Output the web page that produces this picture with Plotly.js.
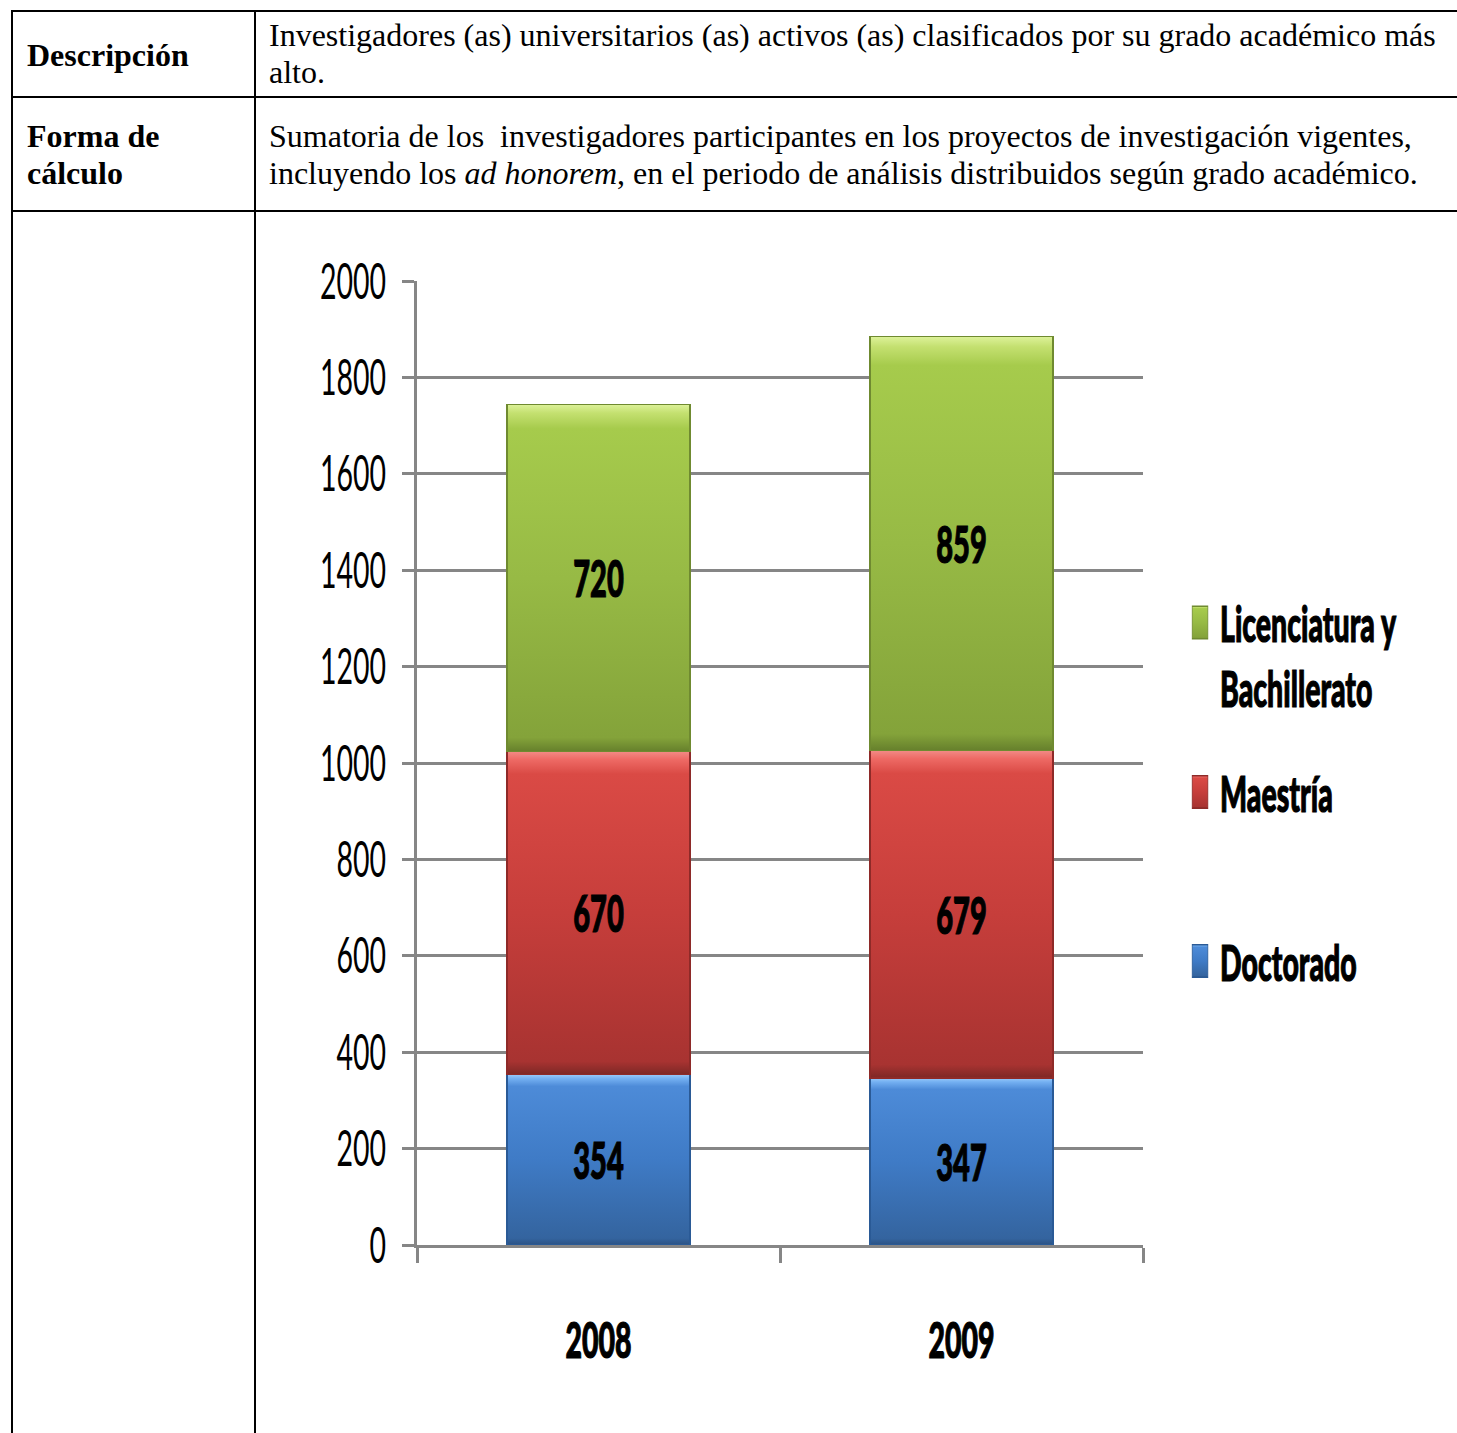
<!DOCTYPE html>
<html>
<head>
<meta charset="utf-8">
<script src="https://cdn.plot.ly/plotly-3.0.1.min.js"></script>
<style>
  html, body { margin: 0; padding: 0; background: #fff; }
  #page { position: relative; width: 1457px; height: 1433px; overflow: hidden; }
  .ln { position: absolute; background: #000; }
  .txt { position: absolute; font-family: "Liberation Serif", "Times New Roman", serif; font-size: 32px; line-height: 37px; color: #000; white-space: nowrap; }
  .b { font-weight: bold; }
  #chart { position: absolute; left: 0; top: 0; width: 1457px; height: 1433px; }
</style>
</head>
<body>
<div id="page">
  <div class="ln" style="left:11px; top:10px; width:1446px; height:2px;"></div>
  <div class="ln" style="left:11px; top:96px; width:1446px; height:2px;"></div>
  <div class="ln" style="left:11px; top:210px; width:1446px; height:2px;"></div>
  <div class="ln" style="left:11px; top:10px; width:2px; height:1423px;"></div>
  <div class="ln" style="left:254px; top:10px; width:2px; height:1423px;"></div>

  <div class="txt b" style="left:27px; top:37px;">Descripción</div>
  <div class="txt" style="left:269px; top:17px;">Investigadores (as) universitarios (as) activos (as) clasificados por su grado académico más<br>alto.</div>
  <div class="txt b" style="left:27px; top:118px;">Forma de<br>cálculo</div>
  <div class="txt" style="left:269px; top:118px;">Sumatoria de los&nbsp; investigadores participantes en los proyectos de investigación vigentes,<br>incluyendo los <i>ad honorem</i>, en el periodo de análisis distribuidos según grado académico.</div>

  <div id="chart"></div>
</div>
<script>
const years = ['2008', '2009'];
const doctorado = [354, 347];
const maestria = [670, 679];
const licenciatura = [720, 859];
const seriesNames = ['Doctorado', 'Maestría', 'Licenciatura y<br>Bachillerato'];
const yTicks = [0, 200, 400, 600, 800, 1000, 1200, 1400, 1600, 1800, 2000];

const fam = 'Lato, "Open Sans", sans-serif';
const grey = '#868686';
const SQUEEZE = 0.57;

const fills = ['#3D79C4', '#C43E3B', '#98BC45'];
const edges = ['#2A5A96', '#8E2A28', '#6F8A30'];
const grads = [
  [['0', '#9CCBFA'], ['0.025', '#74B0F2'], ['0.07', '#4D8BD8'], ['0.5', '#3F7BC6'], ['0.96', '#34649F'], ['1', '#2B5283']],
  [['0', '#F28B86'], ['0.025', '#EE6A65'], ['0.07', '#DA4A45'], ['0.5', '#C63E3B'], ['0.96', '#A83331'], ['1', '#7E2826']],
  [['0', '#DDF29A'], ['0.025', '#C4E070'], ['0.07', '#A6CB4C'], ['0.5', '#97BA45'], ['0.96', '#84A33A'], ['1', '#66802C']]
];

function bar(i, vals, legendId) {
  return {
    type: 'bar', name: seriesNames[i], x: years, y: vals,
    text: vals.map(String), textposition: 'inside', insidetextanchor: 'middle',
    textangle: 0, constraintext: 'none',
    textfont: { family: fam, size: 51, color: '#000', weight: 900 },
    marker: { color: fills[i], line: { color: edges[i], width: 1.5 } },
    legend: legendId, hoverinfo: 'skip'
  };
}

const data = [
  bar(0, doctorado, 'legend3'),
  bar(1, maestria, 'legend2'),
  bar(2, licenciatura, 'legend')
];

function lg(y, valign) {
  return {
    x: 1.051, xanchor: 'left', y: y, yanchor: 'middle', valign: valign,
    font: { family: fam, size: 50, color: '#000', weight: 900 },
    bgcolor: 'rgba(0,0,0,0)', itemwidth: 30
  };
}

const layout = {
  width: 1457, height: 1433,
  margin: { l: 417, r: 314, t: 281, b: 188, autoexpand: false },
  paper_bgcolor: 'rgba(0,0,0,0)', plot_bgcolor: 'rgba(0,0,0,0)',
  barmode: 'stack', bargap: 0.495,
  showlegend: true,
  legend: lg((1245 - 655) / 964, 'top'),
  legend2: lg((1245 - 792) / 964, 'middle'),
  legend3: lg((1245 - 961) / 964, 'middle'),
  xaxis: {
    type: 'category', tickson: 'boundaries', ticks: 'outside', ticklen: 15,
    tickwidth: 3, tickcolor: grey, showline: true, linecolor: grey, linewidth: 3,
    showgrid: false, zeroline: false, ticklabelstandoff: 50,
    tickfont: { family: fam, size: 50, color: '#000', weight: 900 }
  },
  yaxis: {
    range: [0, 2000], tickvals: yTicks, ticktext: yTicks.map(String),
    ticks: 'outside', ticklen: 12, tickwidth: 3, tickcolor: grey,
    showline: true, linecolor: grey, linewidth: 3,
    showgrid: true, gridcolor: grey, gridwidth: 3, zeroline: false,
    ticklabelstandoff: 6,
    tickfont: { family: fam, size: 50, color: '#000' }
  }
};

// Horizontal squeeze about the text's own anchor x (scaleY = 1).
function squeeze(t, sx, heavy) {
  const cur = t.getAttribute('transform') || '';
  if (t.getAttribute('data-sq') === cur) return;
  const ox = parseFloat(t.getAttribute('x')) || 0;
  const next = cur + ' translate(' + ox + ',0) scale(' + sx + ',1) translate(' + (-ox) + ',0)';
  t.setAttribute('data-sq', next);
  t.setAttribute('transform', next);
  if (heavy && t.style.stroke !== 'rgb(0, 0, 0)') {
    t.style.stroke = '#000';
    t.style.strokeWidth = '1.2px';
  }
}

const gd = document.getElementById('chart');
let busy = false;

function decorate() {
  if (busy) return;
  busy = true;
  try {
    const NS = 'http://www.w3.org/2000/svg';
    const svg = gd.querySelector('svg.main-svg');
    if (!svg) return;
    if (!document.getElementById('barGrad0')) {
      const defs = document.createElementNS(NS, 'defs');
      grads.forEach(function (stops, i) {
        const g = document.createElementNS(NS, 'linearGradient');
        g.setAttribute('id', 'barGrad' + i);
        g.setAttribute('x1', '0'); g.setAttribute('y1', '0');
        g.setAttribute('x2', '0'); g.setAttribute('y2', '1');
        stops.forEach(function (s) {
          const st = document.createElementNS(NS, 'stop');
          st.setAttribute('offset', s[0]);
          st.setAttribute('stop-color', s[1]);
          g.appendChild(st);
        });
        defs.appendChild(g);
      });
      svg.insertBefore(defs, svg.firstChild);
    }

    gd.querySelectorAll('.barlayer .trace').forEach(function (tr, i) {
      tr.querySelectorAll('.point path').forEach(function (p) {
        if (p.style.fill.indexOf('url') !== 0) p.style.fill = 'url(#barGrad' + i + ')';
      });
    });
    const colorMap = {};
    fills.forEach(function (c, i) {
      const r = parseInt(c.slice(1, 3), 16), g = parseInt(c.slice(3, 5), 16), b = parseInt(c.slice(5, 7), 16);
      colorMap['rgb(' + r + ', ' + g + ', ' + b + ')'] = i;
    });
    gd.querySelectorAll('.legendpoints path').forEach(function (p) {
      const cur = p.getAttribute('transform') || '';
      if (p.getAttribute('data-done') === cur && p.style.fill.indexOf('url') === 0) return;
      const i = colorMap[p.style.fill];
      if (i !== undefined) p.style.fill = 'url(#barGrad' + i + ')';
      const next = cur + ' scale(1.3,2.7)';
      p.setAttribute('data-done', next);
      p.setAttribute('transform', next);
      p.style.strokeWidth = '0.6px';
    });

    gd.querySelectorAll('.ytick text').forEach(function (t) { squeeze(t, SQUEEZE, false); });
    gd.querySelectorAll('.xtick text, text.bartext, .infolayer text, text.legendtext').forEach(function (t) { squeeze(t, SQUEEZE, true); });
  } finally {
    busy = false;
  }
}

const obs = new MutationObserver(function () { decorate(); });
obs.observe(gd, { subtree: true, childList: true, attributes: true, characterData: true });

Plotly.newPlot(gd, data, layout, { displayModeBar: false, staticPlot: true }).then(function () {
  decorate();
  requestAnimationFrame(decorate);
  setTimeout(decorate, 50);
  setTimeout(decorate, 200);
});
</script>
</body>
</html>
